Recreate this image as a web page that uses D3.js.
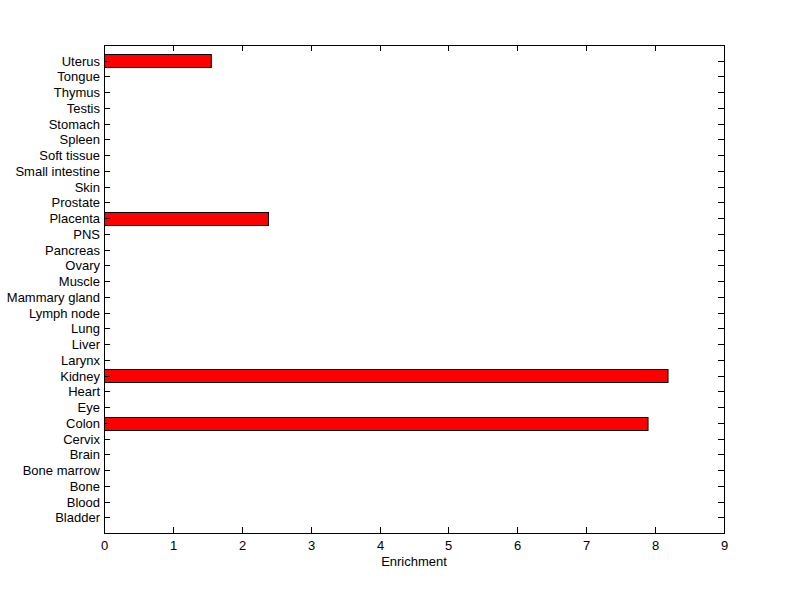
<!DOCTYPE html>
<html>
<head>
<meta charset="utf-8">
<script src="https://cdn.jsdelivr.net/npm/d3@7"></script>
<style>
body { margin: 0; background: #fff; }
text { font-family: "Liberation Sans", Arial, sans-serif; font-size: 13px; fill: #000; }
</style>
</head>
<body>
<script>
// data, bottom to top
var tissues = ["Bladder", "Blood", "Bone", "Bone marrow", "Brain", "Cervix", "Colon", "Eye", "Heart", "Kidney",
    "Larynx", "Liver", "Lung", "Lymph node", "Mammary gland", "Muscle", "Ovary", "Pancreas", "PNS", "Placenta",
    "Prostate", "Skin", "Small intestine", "Soft tissue", "Spleen", "Stomach", "Testis", "Thymus", "Tongue", "Uterus"];
var enrichment = [0, 0, 0, 0, 0, 0, 7.89, 0, 0, 8.18,
    0, 0, 0, 0, 0, 0, 0, 0, 0, 2.38,
    0, 0, 0, 0, 0, 0, 0, 0, 0, 1.55];
var xTicks = [0, 1, 2, 3, 4, 5, 6, 7, 8, 9];

var width = 800, height = 599;
var mLeft = 104, mRight = 724, mTop = 45, mBottom = 533;

var svg = d3.select("body").append("svg")
    .attr("width", width)
    .attr("height", height);

var x = d3.scaleLinear().domain([0, 9]).range([mLeft, mRight]);
var y = d3.scaleLinear().domain([0, tissues.length + 1]).range([mBottom, mTop]);
var step = y(0) - y(1);

var rows = tissues.map(function (name, i) {
    return { name: name, pos: i + 1, value: enrichment[i] };
});

// bars
svg.append("g")
    .selectAll("rect")
    .data(rows.filter(function (d) { return d.value > 0; }))
    .enter().append("rect")
    .attr("x", x(0) + 0.5)
    .attr("y", function (d) { return Math.round(y(d.pos) - step * 0.4) + 0.5; })
    .attr("width", function (d) { return x(d.value) - x(0); })
    .attr("height", Math.round(step * 0.8))
    .style("fill", "#ff0000")
    .style("stroke", "#000")
    .style("stroke-width", 1);

// box
svg.append("rect")
    .attr("x", mLeft + 0.5).attr("y", mTop + 0.5)
    .attr("width", mRight - mLeft).attr("height", mBottom - mTop)
    .style("fill", "none").style("stroke", "#000").style("stroke-width", 1);

var tickLen = 6;

// x ticks (inside, top and bottom)
var xg = svg.append("g");
xTicks.forEach(function (t) {
    var px = Math.round(x(t)) + 0.5;
    xg.append("line").attr("x1", px).attr("x2", px).attr("y1", mBottom).attr("y2", mBottom - tickLen).style("stroke", "#000");
    xg.append("line").attr("x1", px).attr("x2", px).attr("y1", mTop).attr("y2", mTop + tickLen).style("stroke", "#000");
    xg.append("text").attr("x", px).attr("y", mBottom + 17).attr("text-anchor", "middle").text(t);
});

// y ticks
var yg = svg.append("g");
rows.forEach(function (d) {
    var py = Math.round(y(d.pos)) + 0.5;
    yg.append("line").attr("x1", mLeft).attr("x2", mLeft + tickLen).attr("y1", py).attr("y2", py).style("stroke", "#000");
    yg.append("line").attr("x1", mRight).attr("x2", mRight - tickLen).attr("y1", py).attr("y2", py).style("stroke", "#000");
    yg.append("text").attr("x", mLeft - 4).attr("y", py + 4).attr("text-anchor", "end").text(d.name);
});

svg.append("text")
    .attr("x", (mLeft + mRight) / 2)
    .attr("y", mBottom + 33)
    .attr("text-anchor", "middle")
    .text("Enrichment");
</script>
</body>
</html>
